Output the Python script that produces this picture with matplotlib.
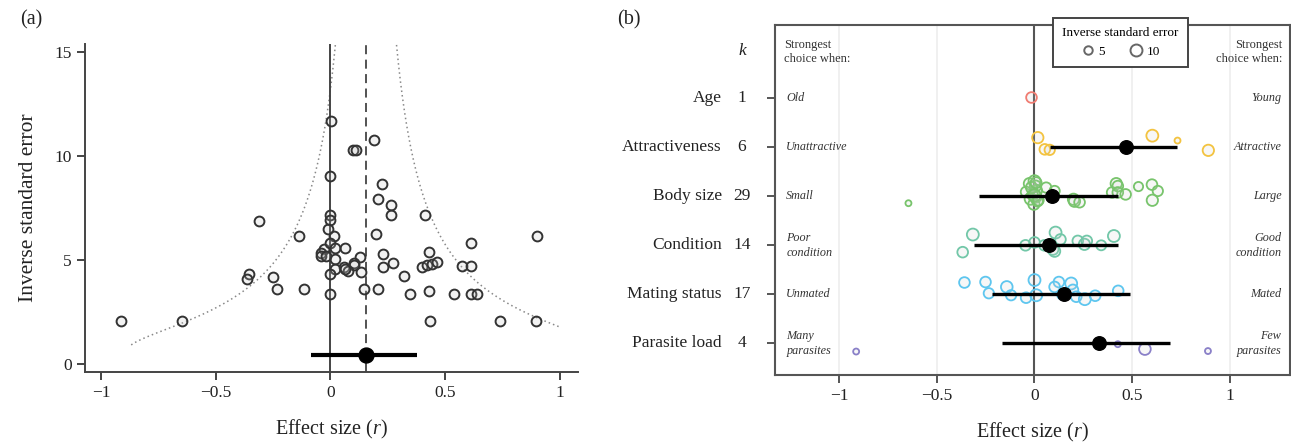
import numpy as np
import matplotlib
matplotlib.use('Agg')
import matplotlib.pyplot as plt
from matplotlib.lines import Line2D

plt.rcParams['font.family'] = ['Liberation Serif', 'DejaVu Serif']
plt.rcParams['mathtext.fontset'] = 'custom'
plt.rcParams['mathtext.rm'] = 'Liberation Serif'
plt.rcParams['mathtext.it'] = 'Liberation Serif:italic'

# ---------------- data: panel (a) funnel plot ----------------
funnel_r = [-0.911, -0.645, -0.311, -0.137, -0.354, -0.362, -0.250, -0.233, -0.116,
            -0.029, -0.042, -0.042, -0.019, 0.003, 0.097, 0.110, 0.190, 0.000,
            0.223, 0.208, 0.265, 0.265, 0.412, 0.000, 0.000, -0.009, 0.016, 0.197,
            0.000, 0.022, 0.064, 0.022, 0.128, 0.231, 0.432, 0.105, 0.105, 0.058,
            0.076, 0.065, 0.022, 0.228, 0.275, 0.135, 0.000, 0.319, 0.400, 0.422,
            0.442, 0.466, 0.146, 0.208, 0.000, 0.345, 0.432, 0.901, 0.613, 0.572,
            0.611, 0.540, 0.611, 0.640, 0.434, 0.741, 0.898]
funnel_ise = [2.04, 2.04, 6.89, 6.15, 4.32, 4.07, 4.19, 3.61, 3.61,
              5.51, 5.33, 5.17, 5.20, 11.7, 10.29, 10.29, 10.79, 9.03,
              8.65, 7.92, 7.65, 7.18, 7.18, 7.18, 6.91, 6.47, 6.15, 6.22,
              5.83, 5.57, 5.57, 5.06, 5.14, 5.28, 5.38, 4.83, 4.73, 4.65,
              4.46, 4.54, 4.57, 4.65, 4.86, 4.41, 4.33, 4.22, 4.64, 4.77,
              4.82, 4.90, 3.61, 3.61, 3.37, 3.37, 3.49, 6.15, 5.83, 4.72,
              4.72, 3.33, 3.33, 3.33, 2.04, 2.04, 2.04]
overall_mean = 0.155
overall_ci = [-0.085, 0.378]

# ---------------- data: panel (b) forest plot ----------------
categories = ['Age', 'Attractiveness', 'Body size', 'Condition', 'Mating status', 'Parasite load']
k_values = [1, 6, 29, 14, 17, 4]
low_labels = ['Old', 'Unattractive', 'Small', 'Poor\ncondition', 'Unmated', 'Many\nparasites']
high_labels = ['Young', 'Attractive', 'Large', 'Good\ncondition', 'Mated', 'Few\nparasites']
cat_colors = ['#f07c72', '#f3c340', '#78c46c', '#72c7a8', '#5ec6ef', '#8a80c8']

cat_mean = [None, 0.470, 0.089, 0.072, 0.150, 0.333]
cat_lo = [None, 0.077, -0.282, -0.308, -0.219, -0.166]
cat_hi = [None, 0.730, 0.427, 0.430, 0.487, 0.692]

es_age = [-0.020]
ise_age = [8.0]
jit_age = [0.03]

es_attr = [0.017, 0.053, 0.078, 0.604, 0.733, 0.891]
ise_attr = [9.0, 8.0, 7.5, 10.0, 2.5, 9.0]
jit_attr = [0.20, -0.04, -0.05, 0.24, 0.14, -0.06]

es_body = [-0.646, -0.026, 0.000, 0.005, -0.043, -0.020, 0.005, -0.003, 0.010, -0.010,
           0.015, -0.015, 0.000, 0.020, 0.060, 0.103, 0.200, 0.205, 0.231, 0.398,
           0.419, 0.427, 0.427, 0.467, 0.533, 0.602, 0.604, 0.632, 0.008]
ise_body = [2.5, 9.0, 10.0, 9.0, 8.0, 10.0, 10.0, 9.0, 9.0, 8.0,
            8.0, 9.0, 11.0, 8.0, 7.5, 7.5, 9.0, 9.0, 8.0, 8.0,
            9.0, 8.0, 8.0, 8.0, 6.0, 8.0, 9.0, 7.5, 8.5]
jit_body = [-0.14, 0.26, 0.31, 0.21, 0.09, -0.05, -0.01, -0.16, 0.12, 0.03,
            -0.10, 0.18, 0.02, -0.08, 0.18, 0.11, -0.06, -0.10, -0.12, 0.08,
            0.26, 0.21, 0.08, 0.04, 0.20, 0.24, -0.08, 0.11, 0.28]

es_cond = [-0.316, -0.368, -0.046, 0.000, 0.108, 0.133, 0.051, 0.094, 0.103, 0.222,
           0.256, 0.268, 0.342, 0.407]
ise_cond = [10.0, 8.0, 8.0, 8.0, 10.0, 8.0, 8.0, 9.0, 9.0, 8.0,
            9.0, 8.0, 7.0, 10.0]
jit_cond = [0.22, -0.14, 0.00, 0.06, 0.26, 0.12, 0.00, -0.08, -0.12, 0.09,
            0.02, 0.09, 0.00, 0.19]

es_mate = [-0.359, -0.251, -0.234, -0.142, -0.120, -0.043, 0.000, 0.009, 0.125, 0.103,
           0.142, 0.188, 0.197, 0.214, 0.258, 0.311, 0.429]
ise_mate = [8.0, 8.0, 7.5, 9.5, 7.5, 8.0, 10.0, 10.0, 8.0, 8.0,
            8.0, 10.0, 8.0, 8.0, 10.0, 8.0, 8.0]
jit_mate = [0.24, 0.25, 0.02, 0.15, -0.02, -0.07, 0.29, -0.02, 0.25, 0.15,
            0.00, 0.22, 0.09, -0.05, -0.10, -0.03, 0.07]

es_para = [-0.914, 0.427, 0.566, 0.889]
ise_para = [2.5, 2.5, 9.5, 2.5]
jit_para = [-0.17, -0.02, -0.12, -0.16]

cat_es = [es_age, es_attr, es_body, es_cond, es_mate, es_para]
cat_ise = [ise_age, ise_attr, ise_body, ise_cond, ise_mate, ise_para]
cat_jit = [jit_age, jit_attr, jit_body, jit_cond, jit_mate, jit_para]

xticks = [-1, -0.5, 0, 0.5, 1]
xticklabels = ['\u22121', '\u22120.5', '0', '0.5', '1']

# ---------------- figure ----------------
fig = plt.figure(figsize=(12.91, 4.47), dpi=100)
spine_col = '#444444'
size_k = 7.4  # marker area per unit of inverse SE

# Panel (a)
axa = fig.add_axes([0.0658, 0.168, 0.382, 0.734])
axa.set_xlim(-1.07, 1.08)
axa.set_ylim(-0.4, 15.4)
yy = np.linspace(0.9, 15.6, 400)
half = np.tanh(1.96 / yy)
axa.plot(overall_mean - half * 1.05, yy, ls=(0, (1, 2)), color='#888888', lw=1.1, zorder=1)
rgt = overall_mean + half * 1.05
axa.plot(np.where(rgt <= 1.0, rgt, np.nan), yy, ls=(0, (1, 2)), color='#888888', lw=1.1, zorder=1)
axa.axvline(0, color=spine_col, lw=1.4, zorder=1)
axa.axvline(overall_mean, color=spine_col, lw=1.3, ls=(0, (5, 3)), zorder=1)
axa.scatter(funnel_r, funnel_ise, s=50, facecolor=(0.75, 0.75, 0.75, 0.2),
            edgecolor='#333333', linewidth=1.4, zorder=3)
axa.plot(overall_ci, [0.4, 0.4], color='black', lw=3, zorder=4, solid_capstyle='butt')
axa.scatter([overall_mean], [0.4], s=115, color='black', zorder=5)
for s in ['top', 'right']:
    axa.spines[s].set_visible(False)
for s in ['left', 'bottom']:
    axa.spines[s].set_color(spine_col)
    axa.spines[s].set_linewidth(1.4)
axa.set_xticks(xticks)
axa.set_xticklabels(xticklabels)
axa.set_yticks([0, 5, 10, 15])
axa.tick_params(length=6, width=1.4, color=spine_col, labelsize=12.5, labelcolor='#222222')
axa.set_ylabel('Inverse standard error', fontsize=15.5, color='#222222', labelpad=12)
axa.set_xlabel('Effect size ($r$)', fontsize=14.5, color='#222222', labelpad=12)

# Panel (b)
axb = fig.add_axes([0.6003, 0.161, 0.3990, 0.783])
axb.set_xlim(-1.33, 1.31)
axb.set_ylim(0.35, 7.5)
rows = np.arange(len(categories), 0, -1)
for gx in [-1, -0.5, 0.5, 1]:
    axb.axvline(gx, color='#ececec', lw=1.1, zorder=0)
axb.axvline(0, color='#555555', lw=1.5, zorder=1)

ytr = axb.get_yaxis_transform()
for i, row in enumerate(rows):
    es = np.array(cat_es[i])
    ise = np.array(cat_ise[i])
    jit = np.array(cat_jit[i])
    axb.scatter(es, row + jit, s=size_k * ise, facecolor=(0.8, 0.8, 0.8, 0.15),
                edgecolor=cat_colors[i], linewidth=1.3, zorder=2)
    if cat_mean[i] is not None:
        axb.plot([cat_lo[i], cat_hi[i]], [row, row], color='black', lw=2.4,
                 zorder=3, solid_capstyle='butt')
        axb.scatter([cat_mean[i]], [row], s=95, color='black', zorder=4)
    axb.text(-0.103, row, categories[i], transform=ytr, ha='right', va='center',
             fontsize=12.5, color='#222222')
    axb.text(-0.064, row, str(k_values[i]), transform=ytr, ha='center', va='center',
             fontsize=12.5, color='#222222')
    axb.text(0.022, row, low_labels[i], transform=ytr, ha='left', va='center',
             fontsize=8.7, style='italic', color='#333333', linespacing=1.35)
    axb.text(0.983, row, high_labels[i], transform=ytr, ha='right', va='center',
             fontsize=8.7, style='italic', color='#333333', linespacing=1.35)

axb.text(-0.064, 0.925, 'k', transform=axb.transAxes, ha='center', va='center',
         fontsize=12.5, style='italic', color='#222222')
axb.text(0.017, 0.923, 'Strongest\nchoice when:', transform=axb.transAxes, ha='left',
         va='center', fontsize=9, color='#333333', linespacing=1.2)
axb.text(0.985, 0.923, 'Strongest\nchoice when:', transform=axb.transAxes, ha='right',
         va='center', fontsize=9, color='#333333', linespacing=1.2)

for s in axb.spines.values():
    s.set_color('#555555')
    s.set_linewidth(1.5)
axb.set_yticks(rows)
axb.set_yticklabels([])
axb.set_xticks(xticks)
axb.set_xticklabels(xticklabels)
axb.tick_params(length=6, width=1.4, color='#555555', labelsize=12.5, labelcolor='#222222')
axb.set_xlabel('Effect size ($r$)', fontsize=14.5, color='#222222', labelpad=12)

handles = [Line2D([], [], ls='', marker='o', markersize=np.sqrt(size_k * v),
                  markerfacecolor='none', markeredgecolor='#666666', markeredgewidth=1.4)
           for v in [5, 10]]
leg = axb.legend(handles, ['5', '10'], title='Inverse standard error', ncol=2,
                 loc='upper center', bbox_to_anchor=(0.67, 1.04), fontsize=9.5,
                 title_fontsize=9.5, frameon=True, fancybox=False, framealpha=1,
                 edgecolor='#444444', handletextpad=0.2, columnspacing=1.8,
                 borderpad=0.7, handlelength=1.2)
leg.get_frame().set_linewidth(1.4)
leg.set_zorder(10)

fig.text(0.0155, 0.955, '(a)', fontsize=14.5, color='#222222', va='center')
fig.text(0.478, 0.955, '(b)', fontsize=14.5, color='#222222', va='center')

fig.savefig('out.png', dpi=100)
